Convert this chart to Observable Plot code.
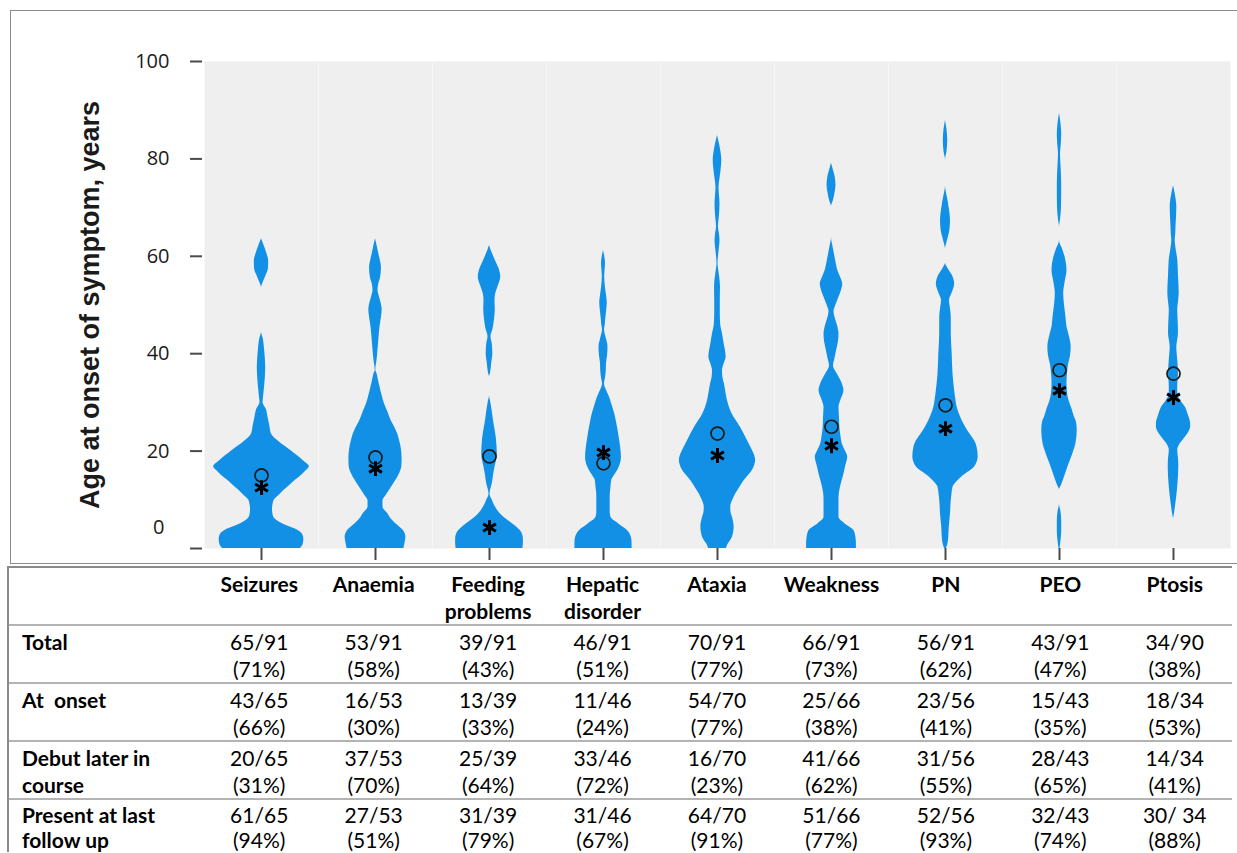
<!DOCTYPE html>
<html>
<head>
<meta charset="utf-8">
<script src="https://cdn.jsdelivr.net/npm/d3@7"></script>
<script src="https://cdn.jsdelivr.net/npm/@observablehq/plot@0.6"></script>
<style>
  html, body { margin: 0; padding: 0; background: #fff; overflow: hidden; width: 1237px; height: 853px; }
  #wrap { position: relative; width: 1237px; height: 853px; overflow: hidden; }
  #frame { position: absolute; left: 10px; top: 10px; width: 1260px; height: 554px; box-sizing: border-box;
           border: 1.5px solid #8a8a8a; pointer-events: none; }
  #chart { position: absolute; left: 0; top: 0; }
  #chart g[aria-label="y-axis tick label"] { font-family: "Open Sans", sans-serif; font-size: 20px; fill: #1a1a1a; }
  #tbl { position: absolute; left: 7px; top: 566px; border-collapse: separate; border-spacing: 0; table-layout: fixed;
         font-family: Lato, sans-serif; font-size: 21px; line-height: 27px; color: #000;
         border-top: 2px solid #8a8a8a; border-left: 2px solid #8a8a8a; }
  #tbl td { padding: 2px 0 0 0; height: 54px; vertical-align: top; white-space: pre; text-align: center;
            border-bottom: 2px solid #b3b3b3; overflow: hidden; }
  #tbl td.lab { text-align: left; padding-left: 13px; font-weight: bold; }
  #tbl tr.head td { font-weight: bold; }
  #tbl tr.last td { line-height: 25px; padding-top: 2px; height: 50px; border-bottom: none; }
</style>
</head>
<body>
<div id="wrap">
  <div id="chart"></div>
  <div id="frame"></div>
  <table id="tbl"></table>
</div>
<script>
// ---------- data ----------
const symptoms = ["Seizures", "Anaemia", "Feeding problems", "Hepatic disorder", "Ataxia", "Weakness", "PN", "PEO", "Ptosis"];
const headerLabels = ["Seizures", "Anaemia", "Feeding\nproblems", "Hepatic\ndisorder", "Ataxia", "Weakness", "PN", "PEO", "Ptosis"];
const yTitle = "Age at onset of symptom, years";
const yTicks = [0, 20, 40, 60, 80, 100];

// open circle and asterisk markers (age, years)
const circleAge   = [15.0, 18.7, 18.9, 17.5, 23.6, 25.0, 29.4, 36.6, 35.9];
const asteriskAge = [12.5, 16.4, 4.3, 19.7, 19.1, 21.1, 24.6, 32.4, 31.0];

// violin density profiles: [age, half-width density]
const profileSeizures = [[0,39],[1,42],[2,42.5],[3,41],[4,34],[5,22],[6,14],[7,11.5],[8,11],[9,11.5],[10,13],[11,18],[12,23],[13,28.5],[14,34],[15,40],[16,45],[16.8,48],[18,42],[20,30],[22,17],[23.5,10],[25,8.5],[27,6.5],[28.5,5],[30,1.5],[31,2],[33,3],[35,3.8],[37,4.2],[39,3.8],[41,3],[43,1.8],[44.5,0],[53.5,0],[54.5,1.5],[56,4.5],[57.5,7],[59,7.2],[60.5,5.5],[62,3],[63.6,0]];
const profileAnaemia = [[0,28.5],[1,29.5],[2.3,30.5],[3.7,28],[5,21],[6,16],[7.1,12.5],[8.5,7.5],[9.8,7.5],[11,11],[12.6,16],[14,20.5],[15.3,24],[17,26.5],[18.5,26.7],[20,26.2],[21,25.5],[22.3,24],[23.5,22.3],[25,19],[26.3,15.7],[28,12.5],[29.7,9],[31.5,6.5],[33,4.7],[34.5,3],[35.8,1.7],[36.6,0.3],[38.6,1.5],[40,2.2],[42,3],[44,3.8],[45.5,4.5],[47.5,6],[49,6.7],[50.5,5.5],[52,3.5],[53,2.5],[54.5,3.5],[55.5,5],[57.7,6],[59,5],[60.5,3.3],[62,1.8],[63.6,0]];
const profileFeeding = [[0,33.5],[1,34],[2,34],[3.4,32],[5.1,23],[6,17],[7.1,11],[8.5,6],[9.8,3],[11.2,0.5],[12.3,1.5],[13.3,2.8],[15,4],[16.7,5.5],[18,7],[19.4,7.8],[21,7.5],[22.9,6.7],[24.5,5.5],[26.3,4],[28.5,2.5],[30,1.3],[31.4,0],[35.2,0],[36,1],[38,2.2],[40,3.3],[42,2.8],[43.5,1.5],[45,3.5],[47,5],[49,5.8],[51,5.5],[52.5,6.5],[54,9],[55.7,11.3],[57.5,9.5],[59.1,6],[60.5,3],[62.2,0]];
const profileHepatic = [[0,28.7],[1,28.7],[2,28.3],[3.7,24],[5.1,15],[6.4,7.5],[7.5,6.7],[8.5,6.7],[10,6.7],[11.2,6.8],[12.6,7.5],[14,8.3],[15.3,12],[16.7,15.8],[18.7,18],[20.8,17.2],[22.5,16],[24.2,14.7],[26,13],[27.6,11.3],[29.5,8.5],[31.1,6],[32.5,3],[33.8,1],[35,2],[36.5,2.8],[38,3],[39.5,4],[41.4,4.5],[43,3],[44.9,1],[46,1.8],[47,2.2],[48.5,3],[50.5,3.8],[52,3],[53.5,2],[55.7,1.2],[57,1.5],[58.5,2],[60,1.2],[61.2,0]];
const profileAtaxia = [[0,9],[0.6,10],[2.3,15],[4.4,16.7],[6.4,15],[7.5,13.5],[8.5,13.3],[10,15.5],[11.2,18.3],[12.6,22.5],[13.9,26.7],[16,35],[18.1,38.3],[19.4,36.7],[20.8,33.5],[22.2,30],[24.9,23],[27.7,14.5],[30.4,10],[32,8.5],[33.8,7],[35,5.5],[36.5,5],[37.8,6.5],[39.3,8.7],[40.6,8],[42,6.7],[44.1,5],[46,3.2],[48.2,2.8],[51,2.8],[53.7,3],[56,2],[58.5,0.5],[61,1.5],[63.2,2.5],[64.5,2],[66,1],[68.5,2],[70.8,2.5],[72.5,2],[74.2,1.5],[76,2.5],[77.5,3.5],[79.7,4.3],[82,3],[83.5,1.5],[84.8,0]];
const profileWeakness = [[0,25],[1,25],[2,24.7],[3.7,22.5],[5,14],[6.4,7.5],[8.5,7.5],[10,7.5],[11.2,7.8],[12.6,9],[14,10.8],[15.3,12.5],[16.7,14],[18.8,16.3],[20,14],[21.5,10.8],[23,9.5],[25,8.3],[27,8],[29,7.5],[30.5,9.5],[32.4,12.5],[34,10.5],[35.8,6],[37.5,2],[39,3.5],[41,5.5],[42.5,7],[44.1,7.5],[45.8,6],[47.5,3.5],[48.6,2.5],[50,4.5],[51.6,7.5],[53,10],[54.3,11.3],[55.5,9.5],[57,6.5],[59.1,4.2],[61.5,2],[63.9,0],[70.1,0],[71.5,2],[73,3.5],[74.6,4.5],[76.5,3.5],[78,1.5],[79.1,0]];
const profilePN = [[0,1],[1.6,3],[4.4,3.8],[7.1,5],[9.9,5.8],[11.2,6.5],[12.6,7.5],[13.6,11],[14.6,15.8],[15.7,23],[16.7,29],[18.8,32.8],[20.8,31.7],[22,29.5],[22.9,26.7],[24.3,22],[25.6,18.3],[27.3,14.5],[29,11.7],[30.7,10.3],[32.4,9.2],[35.9,7.5],[40,6.7],[44.1,5.8],[47.5,5.8],[49.2,5],[50.9,4],[52.6,7],[54.3,9.2],[56,7],[57.5,2.5],[58.6,0],[61.5,0],[62.5,1],[64,3],[65.5,4.5],[67.4,5],[69.5,4],[72,2],[74.5,0],[79.7,0],[81.5,1.5],[83.8,2.2],[86,1.5],[87.9,0]];
const profilePEO = [[0,0.5],[1.6,1.5],[3.5,2.2],[5.7,2.2],[7.5,1.5],[9.2,0],[12,0],[13,2],[14.7,5],[16.5,8],[18.1,11],[19.8,14],[21.5,16.5],[24.3,17.8],[26,17],[27,15],[28.7,12.5],[30.4,9.5],[32,8],[33.9,7.5],[35.9,8],[37.9,9.2],[39.5,11],[41.4,11.7],[43.5,10],[45.5,7.5],[47.5,6.5],[50,5],[52.3,4.2],[54.5,5.5],[57.1,7.5],[59.5,6],[61.5,3],[63.2,0],[65.9,0],[67.5,1],[70,2],[74.1,2.2],[77.5,1.8],[81,1],[83,1.8],[85.1,2.2],[87.2,1.5],[89.3,0]];
const profilePtosis = [[6.1,0],[7.5,1.2],[9.9,2.8],[13.3,4.5],[16.7,5.3],[18.5,5],[20.1,4.2],[21.5,6.7],[22.5,10.5],[23.5,14.2],[25,17.2],[25.6,17.2],[27.3,15],[29.1,11.7],[30.4,7],[31.8,4.2],[33.8,4.3],[35.9,5],[38.5,4.3],[41.4,3.3],[42.8,4.2],[44.1,5],[46.5,4.7],[48.9,4.2],[50.6,5],[52.4,5.7],[54,5.5],[56,5],[59.2,4.3],[61,3],[63.3,1.7],[64.5,2.2],[66,2.5],[68,3],[70.1,3.3],[72.5,2],[74.5,0]];

// table rows
const rowLabels = ["Total", "At  onset", "Debut later in\ncourse", "Present at last\nfollow up"];
const totalCounts = ["65/91","53/91","39/91","46/91","70/91","66/91","56/91","43/91","34/90"];
const totalPct    = ["(71%)","(58%)","(43%)","(51%)","(77%)","(73%)","(62%)","(47%)","(38%)"];
const onsetCounts = ["43/65","16/53","13/39","11/46","54/70","25/66","23/56","15/43","18/34"];
const onsetPct    = ["(66%)","(30%)","(33%)","(24%)","(77%)","(38%)","(41%)","(35%)","(53%)"];
const laterCounts = ["20/65","37/53","25/39","33/46","16/70","41/66","31/56","28/43","14/34"];
const laterPct    = ["(31%)","(70%)","(64%)","(72%)","(23%)","(62%)","(55%)","(65%)","(41%)"];
const lastCounts  = ["61/65","27/53","31/39","31/46","64/70","51/66","52/56","32/43","30/ 34"];
const lastPct     = ["(94%)","(51%)","(79%)","(67%)","(91%)","(77%)","(93%)","(74%)","(88%)"];

// ---------- build ----------
const profiles = [profileSeizures, profileAnaemia, profileFeeding, profileHepatic, profileAtaxia, profileWeakness, profilePN, profilePEO, profilePtosis];
const rows = [];
profiles.forEach((p, i) => p.forEach(([age, w]) => rows.push({symptom: symptoms[i], age, w})));
const markers = symptoms.map((s, i) => ({symptom: s, circle: circleAge[i], asterisk: asteriskAge[i]}));

const W = 1237, H = 565, mL = 202, mR = 5, mT = 61, mB = 17;
const bandHalf = (W - mL - mR) / symptoms.length / 2;

const chart = Plot.plot({
  width: W, height: H,
  marginTop: mT, marginBottom: mB, marginLeft: mL, marginRight: mR,
  style: {background: "transparent", fontFamily: "'Open Sans', sans-serif", fontSize: "20px", overflow: "visible"},
  fx: {domain: symptoms, padding: 0, axis: null},
  x: {domain: [-bandHalf, bandHalf], axis: null},
  y: {domain: [0, 100], axis: null},
  marks: [
    Plot.frame({fill: "#efefef", stroke: "#f6f6f6", strokeWidth: 1}),
    Plot.areaX(rows, {fx: "symptom", z: "symptom", y: "age", x1: d => -d.w, x2: "w", fill: "#1290e6", curve: "monotone-y"}),
    Plot.dot(markers, {fx: "symptom", x: d => 0, y: "circle", r: 6.5, stroke: "#1a1a1a", strokeWidth: 1.7, fill: "none"}),
    Plot.dot(markers, {fx: "symptom", x: d => 0, y: "asterisk", symbol: "asterisk", r: 7, stroke: "#000", strokeWidth: 3}),
    Plot.axisY(yTicks, {tickSize: 12, dx: -2, tickPadding: 21, tickFormat: d => d === 0 ? "" : String(d), stroke: "#4a4a4a", strokeWidth: 2, fill: "#1a1a1a", fontSize: 20, label: null}),
    Plot.axisY([0], {tickSize: 0, dx: -2, dy: -21, tickPadding: 38, stroke: "none", fill: "#1a1a1a", fontSize: 20, label: null}),
    Plot.axisFx({anchor: "bottom", tickSize: 12, tickFormat: () => "", stroke: "#4a4a4a", strokeWidth: 2, label: null}),
    Plot.text([yTitle], {fx: [symptoms[0]], frameAnchor: "left", dx: -114, rotate: -90, textAnchor: "middle",
      fontSize: 27, fontWeight: "bold", fontFamily: "'Liberation Sans', Arial, sans-serif", fill: "#1a1a1a"})
  ]
});
document.getElementById("chart").appendChild(chart);

// ---------- table ----------
const tbl = document.getElementById("tbl");
const colgroup = document.createElement("colgroup");
const c0 = document.createElement("col"); c0.style.width = (mL - 9) + "px"; colgroup.appendChild(c0);
symptoms.forEach(() => { const c = document.createElement("col"); c.style.width = (bandHalf * 2) + "px"; colgroup.appendChild(c); });
tbl.appendChild(colgroup);
tbl.style.width = (mL - 9 + bandHalf * 2 * symptoms.length) + "px";

function addRow(label, cells, cls) {
  const tr = document.createElement("tr");
  if (cls) tr.className = cls;
  const td0 = document.createElement("td"); td0.className = "lab"; td0.textContent = label; tr.appendChild(td0);
  cells.forEach(t => { const td = document.createElement("td"); td.textContent = t; tr.appendChild(td); });
  tbl.appendChild(tr);
}
addRow("", headerLabels, "head");
const tableData = [[totalCounts, totalPct], [onsetCounts, onsetPct], [laterCounts, laterPct], [lastCounts, lastPct]];
tableData.forEach(([counts, pcts], r) => addRow(rowLabels[r], counts.map((c, i) => c + "\n" + pcts[i]), r === tableData.length - 1 ? "last" : null));
</script>
</body>
</html>
